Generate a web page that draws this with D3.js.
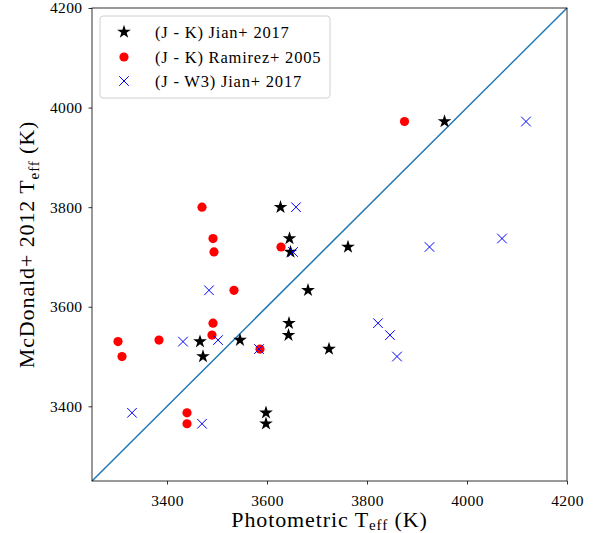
<!DOCTYPE html>
<html>
<head>
<meta charset="utf-8">
<script src="https://cdn.jsdelivr.net/npm/d3@7"></script>
<style>
  body { margin: 0; background: #fff; }
  text { font-family: "Liberation Serif", "DejaVu Serif", serif; }
</style>
</head>
<body>
<div id="chart"></div>
<script>
const width = 600;
const height = 533;
const margin = { top: 8, right: 33, bottom: 52, left: 92 };

// McDonald+ 2012 temperatures (y) shared by all three series
const mcdonaldTeff = [3972, 3800, 3737, 3710, 3720, 3633, 3567, 3543, 3515, 3533, 3530, 3500, 3387, 3365];
// photometric temperatures (x)
const jianJK = [3955, 3627, 3645, 3647, 3762, 3682, 3644, 3643, 3724, 3546, 3466, 3472, 3598, 3598];
const ramirezJK = [3875, 3470, 3492, 3494, 3628, 3534, 3492, 3490, 3586, 3384, 3302, 3310, 3440, 3440];
const jianJW3 = [4118, 3658, 4070, 3652, 3925, 3484, 3822, 3846, 3584, 3502, 3432, 3860, 3330, 3470];

const tickValues = [3400, 3600, 3800, 4000, 4200];
const domain = [3250, 4200];
const seriesNames = ["(J - K) Jian+ 2017", "(J - K) Ramirez+ 2005", "(J - W3) Jian+ 2017"];

const svg = d3.select("#chart").append("svg")
    .attr("width", width)
    .attr("height", height);

const x = d3.scaleLinear().domain(domain).range([margin.left, width - margin.right]);
const y = d3.scaleLinear().domain(domain).range([height - margin.bottom, margin.top]);

// one-to-one line
svg.append("line")
    .attr("x1", x(domain[0])).attr("y1", y(domain[0]))
    .attr("x2", x(domain[1])).attr("y2", y(domain[1]))
    .attr("stroke", "#1f77b4")
    .attr("stroke-width", 1.5);

const star = d3.symbol(d3.symbolStar, 58);
const cross = d3.symbol(d3.symbolTimes, 62);

function drawStars(g, xs) {
    g.selectAll("path.star")
        .data(xs)
        .enter().append("path")
        .attr("class", "star")
        .attr("d", star)
        .attr("transform", (d, i) => `translate(${x(d)},${y(mcdonaldTeff[i])})`)
        .attr("fill", "black");
}

function drawDots(g, xs) {
    g.selectAll("circle.dot")
        .data(xs)
        .enter().append("circle")
        .attr("class", "dot")
        .attr("cx", d => x(d))
        .attr("cy", (d, i) => y(mcdonaldTeff[i]))
        .attr("r", 4.6)
        .attr("fill", "red");
}

function drawCrosses(g, xs) {
    g.selectAll("path.cross")
        .data(xs)
        .enter().append("path")
        .attr("class", "cross")
        .attr("d", cross)
        .attr("transform", (d, i) => `translate(${x(d)},${y(mcdonaldTeff[i])})`)
        .attr("fill", "none")
        .attr("stroke", "blue")
        .attr("stroke-width", 1);
}

drawStars(svg.append("g"), jianJK);
drawDots(svg.append("g"), ramirezJK);
drawCrosses(svg.append("g"), jianJW3);

// axes
const fmt = d3.format("d");
const xAxis = svg.append("g")
    .attr("transform", `translate(0,${height - margin.bottom})`)
    .call(d3.axisBottom(x).tickValues(tickValues).tickFormat(fmt).tickSize(3.5).tickPadding(10));
const yAxis = svg.append("g")
    .attr("transform", `translate(${margin.left},0)`)
    .call(d3.axisLeft(y).tickValues(tickValues).tickFormat(fmt).tickSize(3.5).tickPadding(6));

[xAxis, yAxis].forEach(a => {
    a.select(".domain").remove();
    a.selectAll("text")
        .style("font-family", '"Liberation Serif", serif')
        .style("font-size", "15.5px")
        .style("letter-spacing", "0.4px")
        .attr("fill", "#000");
    a.selectAll("line").attr("stroke", "#000").attr("stroke-width", 0.8);
});

// frame
svg.append("rect")
    .attr("x", x(domain[0])).attr("y", y(domain[1]))
    .attr("width", x(domain[1]) - x(domain[0]))
    .attr("height", y(domain[0]) - y(domain[1]))
    .attr("fill", "none")
    .attr("stroke", "#000")
    .attr("stroke-width", 0.8);

// axis labels
const xLabel = svg.append("text")
    .attr("x", (x(domain[0]) + x(domain[1])) / 2)
    .attr("y", 527)
    .attr("text-anchor", "middle")
    .style("font-size", "22px")
    .style("letter-spacing", "0.9px");
xLabel.append("tspan").text("Photometric T");
xLabel.append("tspan").attr("dy", 3).style("font-size", "15px").text("eff");
xLabel.append("tspan").attr("dy", -3).text(" (K)");

const yLabel = svg.append("text")
    .attr("transform", `translate(34,${(y(domain[0]) + y(domain[1])) / 2}) rotate(-90)`)
    .attr("text-anchor", "middle")
    .style("font-size", "22px")
    .style("letter-spacing", "0.9px");
yLabel.append("tspan").text("McDonald+ 2012 T");
yLabel.append("tspan").attr("dy", 5).style("font-size", "15px").text("eff");
yLabel.append("tspan").attr("dy", -5).text(" (K)");

// legend
const legend = svg.append("g").attr("transform", "translate(100,16)");
legend.append("rect")
    .attr("width", 230).attr("height", 82)
    .attr("rx", 3)
    .attr("fill", "#fff").attr("fill-opacity", 0.8)
    .attr("stroke", "#d0d0d0").attr("stroke-width", 1);

const rowY = [16, 41, 65];
legend.append("path").attr("d", star).attr("transform", `translate(24,${rowY[0]})`).attr("fill", "black");
legend.append("circle").attr("cx", 24).attr("cy", rowY[1]).attr("r", 4.6).attr("fill", "red");
legend.append("path").attr("d", cross).attr("transform", `translate(24,${rowY[2]})`)
    .attr("fill", "none").attr("stroke", "blue").attr("stroke-width", 1);

legend.selectAll("text.lbl")
    .data(seriesNames)
    .enter().append("text")
    .attr("class", "lbl")
    .attr("x", 55)
    .attr("y", (d, i) => rowY[i])
    .attr("dy", "0.35em")
    .style("font-size", "16.5px")
    .style("letter-spacing", "0.8px")
    .text(d => d);
</script>
</body>
</html>
